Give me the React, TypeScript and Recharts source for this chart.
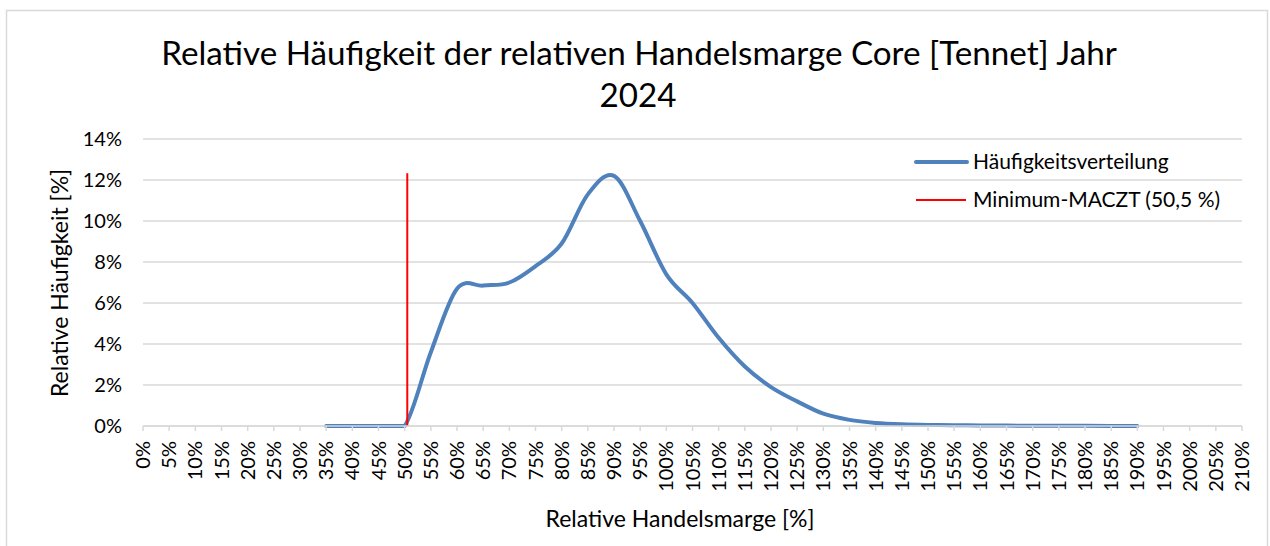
import React from 'react';
import { LineChart, Line, XAxis, YAxis, CartesianGrid } from 'recharts';

const marginValues = [35, 40, 45, 50, 55, 60, 65, 70, 75, 80, 85, 90, 95, 100, 105, 110, 115, 120, 125, 130, 135, 140, 145, 150, 155, 160, 165, 170, 175, 180, 185, 190];
const frequencyValues = [0, 0, 0, 0, 3.6, 6.7, 6.85, 7.0, 7.8, 8.9, 11.3, 12.2, 10.0, 7.4, 6.0, 4.3, 2.9, 1.9, 1.2, 0.6, 0.3, 0.15, 0.08, 0.05, 0.04, 0.03, 0.02, 0.01, 0.01, 0.01, 0.0, 0.0];
const minMacztMargin = [50.5, 50.5];
const minMacztFreq = [0, 12.33];
const xTicks = [0, 5, 10, 15, 20, 25, 30, 35, 40, 45, 50, 55, 60, 65, 70, 75, 80, 85, 90, 95, 100, 105, 110, 115, 120, 125, 130, 135, 140, 145, 150, 155, 160, 165, 170, 175, 180, 185, 190, 195, 200, 205, 210];
const yTicks = [0, 2, 4, 6, 8, 10, 12, 14];

const seriesNames = ['Häufigkeitsverteilung', 'Minimum-MACZT (50,5 %)'];
const titleLines = ['Relative Häufigkeit der relativen Handelsmarge Core [Tennet] Jahr', '2024'];
const xTitle = 'Relative Handelsmarge [%]';
const yTitle = 'Relative Häufigkeit [%]';

const distData = marginValues.map((m, i) => ({ x: m, y: frequencyValues[i] }));
const minData = minMacztMargin.map((m, i) => ({ x: m, y: minMacztFreq[i] }));

const FONT = 'Lato, "Open Sans", sans-serif';
const TEXT = '#000000';
const BLUE = '#4F81BD';
const RED = '#FF0000';
const GRID = '#D9D9D9';
const TICK_SIZE = 20;

// Spreadsheet-style smoothed line (uniform Catmull-Rom through every point;
// flat segments stay straight so the line does not dip below the baseline)
const smoothCurve = (context: any) => {
  let pts: number[][] = [];
  return {
    areaStart() {},
    areaEnd() {},
    lineStart() { pts = []; },
    point(x: number, y: number) { pts.push([+x, +y]); },
    lineEnd() {
      const n = pts.length;
      if (!n) return;
      context.moveTo(pts[0][0], pts[0][1]);
      if (n === 1) return;
      for (let i = 0; i < n - 1; i++) {
        const p0 = pts[i - 1] || pts[i];
        const p1 = pts[i];
        const p2 = pts[i + 1];
        const p3 = pts[i + 2] || pts[i + 1];
        if (Math.abs(p1[1] - p2[1]) < 0.01) {
          context.lineTo(p2[0], p2[1]);
          continue;
        }
        context.bezierCurveTo(
          p1[0] + (p2[0] - p0[0]) / 6, p1[1] + (p2[1] - p0[1]) / 6,
          p2[0] - (p3[0] - p1[0]) / 6, p2[1] - (p3[1] - p1[1]) / 6,
          p2[0], p2[1]
        );
      }
    },
  };
};

const XTick = (props: any) => {
  const { x, y, payload } = props;
  const ay = y + 8;
  return (
    <text x={x} y={ay} transform={`rotate(-90, ${x}, ${ay})`} textAnchor="end" dy="0.35em"
      fontFamily={FONT} fontSize={TICK_SIZE} fill={TEXT}>
      {payload.value}%
    </text>
  );
};

const YTick = (props: any) => {
  const { x, y, payload } = props;
  return (
    <text x={x} y={y} textAnchor="end" dy="0.35em" fontFamily={FONT} fontSize={TICK_SIZE} fill={TEXT}>
      {payload.value}%
    </text>
  );
};

export default function App() {
  return (
    <div style={{ position: 'absolute', left: 0, top: 0, width: 1270, height: 546, background: '#fff' }}>
      <svg width={1270} height={546} style={{ position: 'absolute', left: 0, top: 0 }}>
        <rect x={6.5} y={10.5} width={1261} height={560} fill="#fff" stroke={GRID} strokeWidth={1.5} />
      </svg>
      <div style={{ position: 'absolute', left: 0, top: 0 }}>
        <LineChart width={1270} height={546} margin={{ top: 139, right: 28, bottom: 60, left: 83 }}>
          <CartesianGrid vertical={false} stroke={GRID} strokeWidth={1.5} />
          <XAxis type="number" dataKey="x" domain={[0, 210]} ticks={xTicks} interval={0}
            axisLine={{ stroke: GRID, strokeWidth: 1.5 }} tickLine={{ stroke: GRID, strokeWidth: 1.5 }}
            tickSize={5} height={60} tick={<XTick />} />
          <YAxis type="number" domain={[0, 14]} ticks={yTicks} interval={0} width={60}
            axisLine={false} tickLine={false} tickSize={0} tickMargin={21} tick={<YTick />} />
          <Line data={distData} dataKey="y" name={seriesNames[0]} type={smoothCurve as any} stroke={BLUE}
            strokeWidth={4} dot={false} isAnimationActive={false} strokeLinecap="round" strokeLinejoin="round" />
          <Line data={minData} dataKey="y" name={seriesNames[1]} type="linear" stroke={RED}
            strokeWidth={2} dot={false} isAnimationActive={false} />
        </LineChart>
      </div>
      <svg width={1270} height={546} style={{ position: 'absolute', left: 0, top: 0, pointerEvents: 'none' }}>
        <text x={639} y={65} textAnchor="middle" fontFamily={FONT} fontSize={33.2} fill={TEXT}>{titleLines[0]}</text>
        <text x={638} y={107} textAnchor="middle" fontFamily={FONT} fontSize={33.2} fill={TEXT}>{titleLines[1]}</text>
        <text x={680} y={527} textAnchor="middle" fontFamily={FONT} fontSize={23} fill={TEXT}>{xTitle}</text>
        <text x={68} y={283} textAnchor="middle" transform="rotate(-90, 68, 283)" fontFamily={FONT} fontSize={23} fill={TEXT}>{yTitle}</text>
        <g>
          <line x1={916} y1={162} x2={967} y2={162} stroke={BLUE} strokeWidth={4} strokeLinecap="round" />
          <text x={973} y={162} dy="0.35em" fontFamily={FONT} fontSize={21} fill={TEXT}>{seriesNames[0]}</text>
          <line x1={916} y1={200} x2={966} y2={200} stroke={RED} strokeWidth={2} />
          <text x={973} y={200} dy="0.35em" fontFamily={FONT} fontSize={21} fill={TEXT}>{seriesNames[1]}</text>
        </g>
      </svg>
    </div>
  );
}
